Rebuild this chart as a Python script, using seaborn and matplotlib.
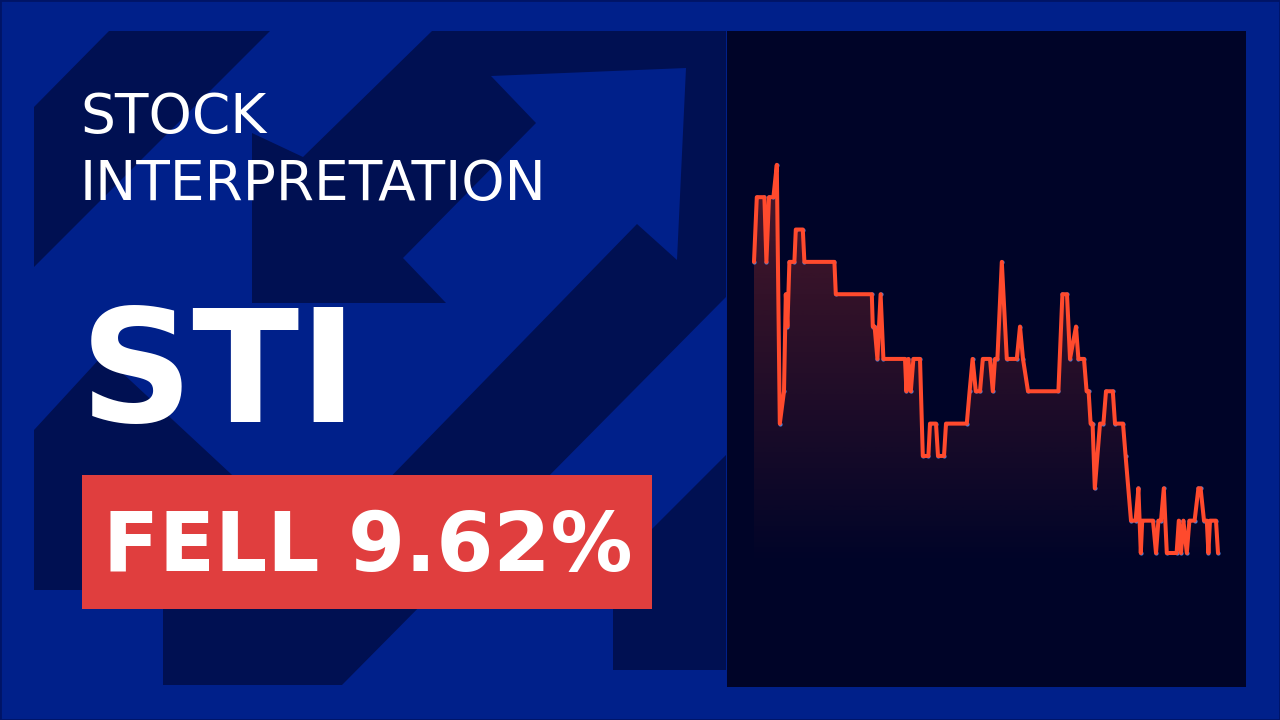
import numpy as np
import seaborn as sns
import matplotlib.pyplot as plt
from matplotlib.colors import to_rgb
from matplotlib.patches import Polygon, Rectangle, PathPatch


# STI closes (x = session position, y = index level)
session = [0, 1.4, 5.2, 6.2, 7.5, 9.7, 11.4, 12.9, 15, 15.9,
	16.7, 17.7, 20.2, 20.9, 24.4, 25.2, 40.2, 40.9, 58.9, 59.4,
	60.3, 61.7, 63.3, 64.7, 75.5, 76.2, 77.2, 78.4, 79.7, 83,
	84.4, 87.2, 88, 91, 92, 95, 96, 106.4, 107.8, 109.3,
	110.9, 113, 114.4, 118, 119.4, 120.5, 121.7, 123.9, 126.4, 131.4,
	133, 134.5, 137, 152.2, 154.2, 156.5, 158, 161, 162.2, 165,
	166.3, 167.3, 168.3, 169.3, 170.4, 173, 174.7, 176, 179.4, 180.5,
	184.5, 185.8, 188.5, 190.8, 192.2, 193.4, 194.1, 199.5, 201, 202.2,
	203.5, 204.9, 206.4, 211.3, 212.4, 213.5, 214.7, 216.4, 217.7, 220.3,
	222.2, 223.3, 225, 226.4, 227.2, 228, 231, 232]

close = [3744, 3824, 3824, 3744, 3824, 3824, 3864, 3544, 3584, 3704,
	3664, 3744, 3744, 3784, 3784, 3744, 3744, 3704, 3704, 3664,
	3664, 3624, 3704, 3624, 3624, 3584, 3624, 3584, 3624, 3624,
	3504, 3504, 3544, 3544, 3504, 3504, 3544, 3544, 3584, 3624,
	3584, 3584, 3624, 3624, 3584, 3624, 3624, 3744, 3624, 3624,
	3664, 3624, 3584, 3584, 3704, 3704, 3624, 3664, 3624, 3624,
	3584, 3584, 3544, 3544, 3464, 3544, 3544, 3584, 3584, 3544,
	3544, 3504, 3424, 3424, 3464, 3384, 3424, 3424, 3384, 3424,
	3424, 3464, 3384, 3384, 3424, 3384, 3424, 3384, 3424, 3424,
	3464, 3464, 3424, 3424, 3384, 3424, 3424, 3384]

header_lines = ["STOCK", "INTERPRETATION"]
ticker = "STI"
change_label = "FELL 9.62%"

LIGHT = "#00208a"
DARK = "#001052"
PANEL = "#000428"
RED = "#e03e3e"
LINE = "#ff4a2d"
DOT = "#4a7fd8"

# background arrow shapes, in pixels of the 1280x720 canvas
dark_shapes = [
	[(34, 107), (109, 31), (270, 31), (34, 267)],
	[(432, 31), (726, 31), (726, 297), (342, 685), (163, 685), (163, 609),
	 (262, 609), (637, 224), (677, 260), (686, 68), (491, 76), (536, 123),
	 (403, 258), (446, 303), (252, 303), (252, 133), (303, 157)],
	[(34, 430), (103, 355), (245, 487), (245, 590), (34, 590)],
	[(726, 455), (613, 568), (613, 670), (726, 670)],
]


fig = plt.figure(figsize=(12.8, 7.2), dpi=100)
fig.patch.set_facecolor(LIGHT)

bg = fig.add_axes([0, 0, 1, 1])
bg.set_xlim(0, 1280)
bg.set_ylim(720, 0)
bg.axis("off")
for shape in dark_shapes:
	bg.add_patch(Polygon(shape, closed=True, facecolor=DARK, edgecolor="none"))
bg.add_patch(Rectangle((0, 0), 1280, 720, fill=False, edgecolor="#001466", linewidth=2))

bg.text(80, 133, header_lines[0], fontsize=39.6, color="white", va="baseline")
bg.text(80, 200, header_lines[1], fontsize=39.6, color="white", va="baseline")
bg.text(80, 422, ticker, fontsize=113, fontweight="bold", color="white", va="baseline")
bg.add_patch(Rectangle((82, 475), 570, 134, facecolor=RED, edgecolor="none"))
bg.text(368, 571, change_label, fontsize=59, fontweight="bold", color="white",
	ha="center", va="baseline")


# chart panel
ax = fig.add_axes([727 / 1280, 33 / 720, 519 / 1280, 656 / 720])
ax.set_facecolor(PANEL)

sns.scatterplot(x=session, y=close, ax=ax, color=DOT, s=9, linewidth=0, zorder=2)
sns.lineplot(x=session, y=close, ax=ax, color=LINE, linewidth=2.9, zorder=3,
	estimator=None, solid_joinstyle="round", solid_capstyle="round")

ylo, yhi = 3218.3, 4029.5
xlo, xhi = -13.5, 246

# gradient fill below the line
poly = ax.fill_between(session, close, ylo, facecolor="none", edgecolor="none")
clip = PathPatch(poly.get_paths()[0], transform=ax.transData, facecolor="none", edgecolor="none")
ax.add_patch(clip)
grad = np.zeros((256, 1, 4))
grad[..., :3] = to_rgb(LINE)
grad[:, 0, 3] = np.linspace(0, 0.3, 256)
im = ax.imshow(grad, extent=[session[0], session[-1], min(close) - 20, max(close)],
	origin="lower", aspect="auto", zorder=1)
im.set_clip_path(clip)

ax.set_xlim(xlo, xhi)
ax.set_ylim(ylo, yhi)
ax.set_xticks([])
ax.set_yticks([])
ax.set_xlabel("")
ax.set_ylabel("")
for s in ax.spines.values():
	s.set_visible(False)

fig.savefig("out.png", dpi=100, facecolor=fig.get_facecolor())
